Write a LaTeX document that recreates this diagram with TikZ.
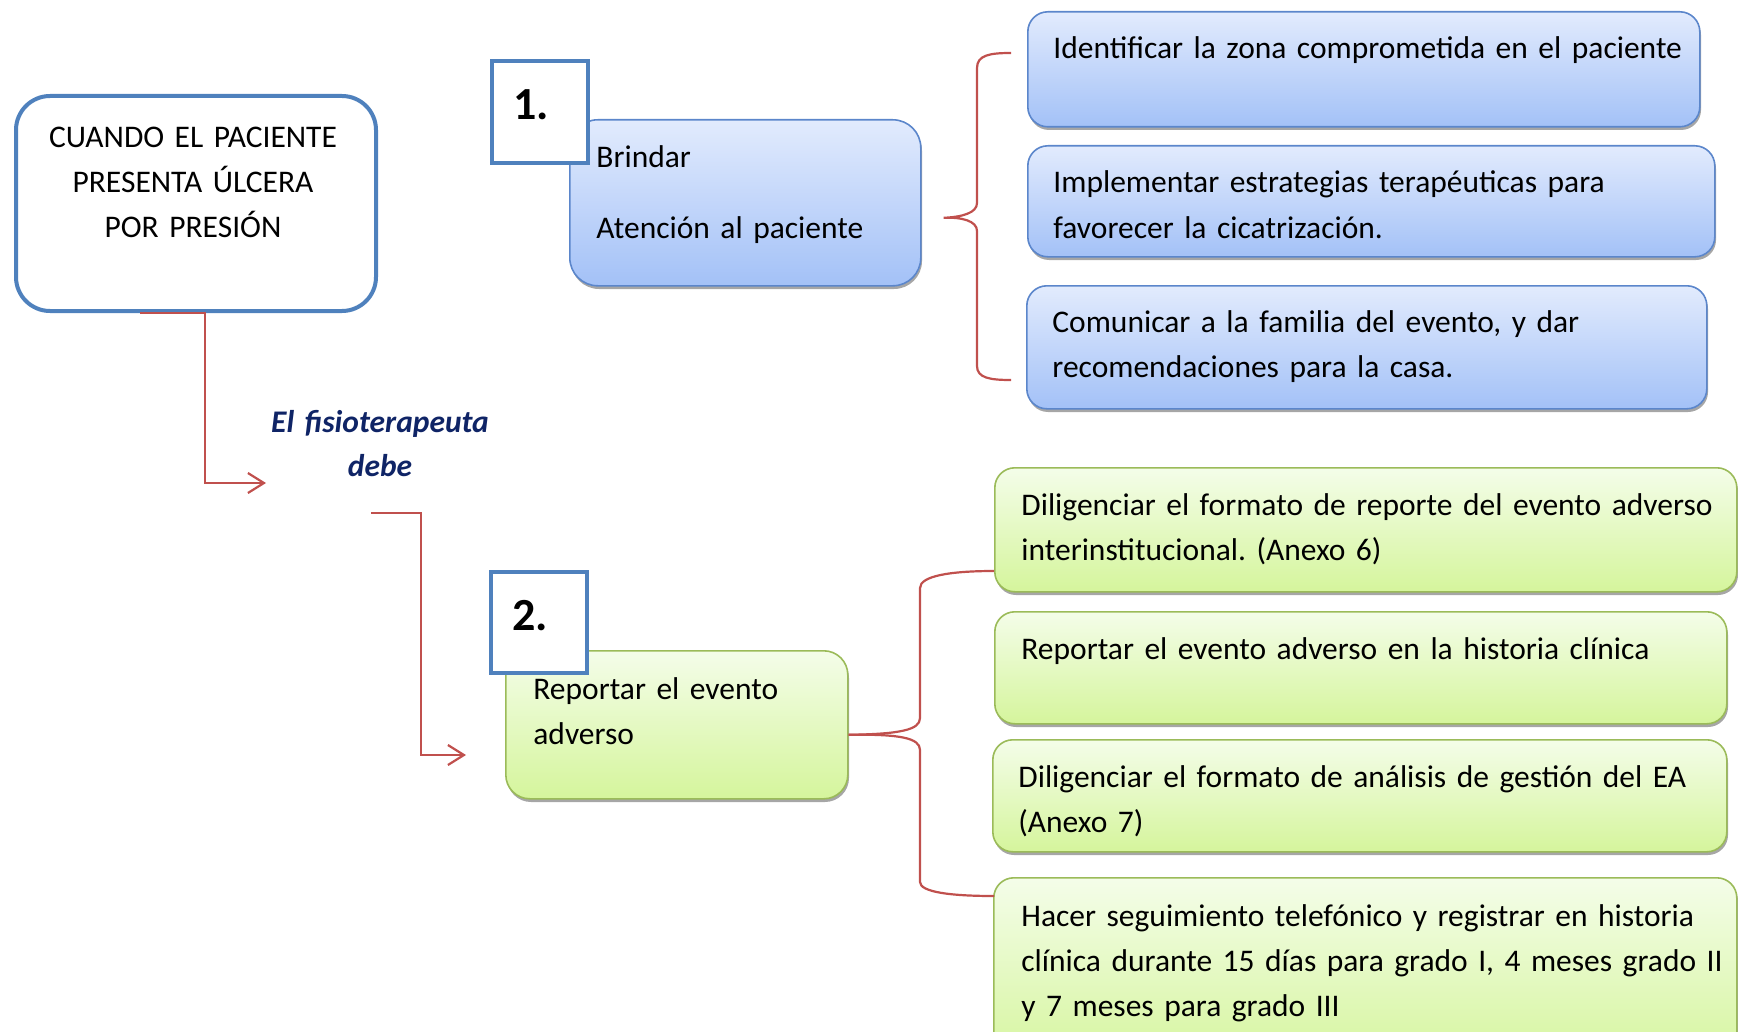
\documentclass[tikz,border=0pt]{standalone}
\usepackage{fontspec}
\setmainfont[WordSpace=0.88]{Carlito}
\frenchspacing
\usetikzlibrary{arrows.meta,calc,positioning,shadows}
\definecolor{Frame}{HTML}{4F81BD}
\definecolor{SkyTop}{HTML}{E2EBFD}
\definecolor{SkyBot}{HTML}{A3C1F7}
\definecolor{SkyLine}{HTML}{5B86CB}
\definecolor{LimeTop}{HTML}{F4FDE9}
\definecolor{LimeBot}{HTML}{D5F59C}
\definecolor{LimeLine}{HTML}{9BBB59}
\definecolor{Link}{HTML}{C0504D}
\definecolor{Navy}{HTML}{0F2466}
\tikzset{
  mainbox/.style={
    anchor=north west, draw=Frame, line width=2pt, fill=white,
    rounded corners=17pt
  },
  numbox/.style={
    anchor=north west, draw=Frame, line width=2pt, fill=white,
    text depth=7pt, font=\fontsize{23}{23}\selectfont\bfseries
  },
  skybox/.style={
    anchor=north west, draw=SkyLine, line width=0.8pt, rounded corners=10pt,
    top color=SkyTop, bottom color=SkyBot,
    drop shadow={shadow xshift=0.6pt, shadow yshift=-1.6pt, fill=black, opacity=0.35}
  },
  limebox/.style={
    anchor=north west, draw=LimeLine, line width=0.8pt, rounded corners=10pt,
    top color=LimeTop, bottom color=LimeBot,
    drop shadow={shadow xshift=0.6pt, shadow yshift=-1.6pt, fill=black, opacity=0.35}
  },
  txt/.style={
    anchor=base west, inner sep=0pt, text width=370pt, align=left,
    font=\fontsize{15.75}{22.5}\selectfont
  },
  ctxt/.style={txt, anchor=base, text width=175pt, align=center},
  note/.style={ctxt, text=Navy, font=\fontsize{15.75}{22}\selectfont\bfseries\itshape},
  link/.style={draw=Link, line width=1.1pt},
  arrowlink/.style={link, -{Straight Barb[length=8pt,width=10pt]}}
}
\begin{document}
\begin{tikzpicture}[x=0.5pt,y=-0.5pt]
  \clip (0,0) rectangle (1738,1032);

  % starting situation
  \node[mainbox, minimum width=180pt, minimum height=107.5pt] (main) at (14,94) {};
  \node[ctxt] (mainTxt) at (193,148) {CUANDO EL PACIENTE\\PRESENTA ÚLCERA\\POR PRESIÓN};
  \node[note] (who) at (380,432) {El fisioterapeuta\\debe};

  % step 1
  \node[skybox, minimum width=175.5pt, minimum height=83pt, rounded corners=14pt] (care) at (569,119) {};
  \node[txt] (careTxt) at (596,168) {Brindar\\[13pt]Atención al paciente};
  \node[numbox, minimum width=48pt, minimum height=51pt] (one) at (490,59) {1.\kern9pt};

  \node[skybox, minimum width=336pt, minimum height=57.5pt] (zone) at (1027,11) {};
  \node[txt] (zoneTxt) at (1053,59) {Identificar la zona comprometida en el paciente};
  \node[skybox, minimum width=343.5pt, minimum height=55.5pt] (heal) at (1027,145) {};
  \node[txt] (healTxt) at (1053,193) {Implementar estrategias terapéuticas para\\favorecer la cicatrización.};
  \node[skybox, minimum width=340pt, minimum height=61.5pt] (family) at (1026,285) {};
  \node[txt] (familyTxt) at (1052,332) {Comunicar a la familia del evento, y dar\\recomendaciones para la casa.};

  % step 2
  \node[limebox, minimum width=171pt, minimum height=74pt, rounded corners=12pt] (report) at (505,650) {};
  \node[txt] (reportTxt) at (533,699) {Reportar el evento\\adverso};
  \node[numbox, minimum width=48pt, minimum height=50.5pt] (two) at (489,570) {2.\kern9pt};

  \node[limebox, minimum width=371pt, minimum height=62pt] (form) at (994,467) {};
  \node[txt] (formTxt) at (1021,515) {Diligenciar el formato de reporte del evento adverso\\interinstitucional. (Anexo 6)};
  \node[limebox, minimum width=366pt, minimum height=56pt] (chart) at (994,611) {};
  \node[txt] (chartTxt) at (1021,659) {Reportar el evento adverso en la historia clínica};
  \node[limebox, minimum width=367pt, minimum height=56pt] (review) at (992,739) {};
  \node[txt] (reviewTxt) at (1018,787) {Diligenciar el formato de análisis de gestión del EA\\(Anexo 7)};
  \node[limebox, minimum width=371.5pt, minimum height=95pt] (follow) at (993,877) {};
  \node[txt] (followTxt) at (1021,926) {Hacer seguimiento telefónico y registrar en historia\\clínica durante 15 días para grado I, 4 meses grado II\\y 7 meses para grado III};

  % connectors
  \coordinate (tipA) at (266,483);
  \coordinate (tailB) at (371,513);
  \coordinate (tipB) at (466,755);
  \draw[arrowlink] ($(main.south west)+(126,0)$) -- ($(main.south west)+(191,0)$) |- (tipA);
  \draw[arrowlink] (tailB) -- ++(50,0) |- (tipB);

  \coordinate (braceTip) at ($(care.east)+(22,15)$);
  \coordinate (braceTop) at (1011,53);
  \coordinate (braceBot) at (1011,380);
  \draw[link] (braceTop) .. controls (990,53) and (977,55) .. (977,68) -- (977,203)
    .. controls (977,213) and (962,217) .. (braceTip)
    .. controls (962,217) and (977,221) .. (977,231) -- (977,366)
    .. controls (977,378) and (990,380) .. (braceBot);

  \coordinate (forkIn) at ($(report.east)+(0,10)$);
  \coordinate (forkTop) at (994,571);
  \coordinate (forkBot) at (994,896);
  \draw[link] (forkIn) .. controls (900,734) and (920,730) .. (920,718) -- (920,588)
    .. controls (920,576) and (950,571) .. (forkTop);
  \draw[link] (forkIn) .. controls (900,734) and (920,738) .. (920,750) -- (920,882)
    .. controls (920,892) and (950,896) .. (forkBot);
\end{tikzpicture}
\end{document}
